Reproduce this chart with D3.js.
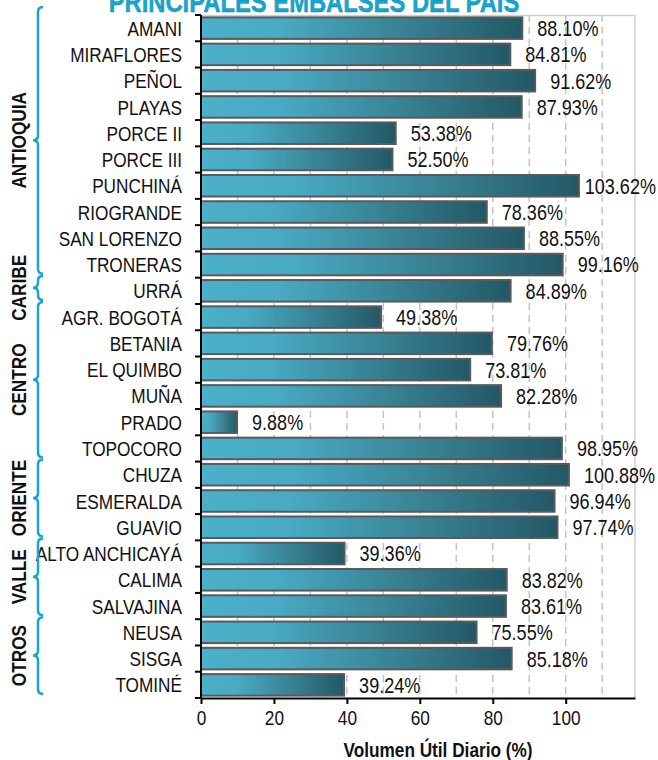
<!DOCTYPE html>
<html>
<head>
<meta charset="utf-8">
<script src="https://cdn.jsdelivr.net/npm/d3@7"></script>
<style>
  body { margin: 0; background: #fff; }
  svg { display: block; }
  text { font-family: "Liberation Sans", Arial, sans-serif; }
</style>
</head>
<body>
<div id="chart"></div>
<script>
// Data
var embalses = ["AMANI","MIRAFLORES","PEÑOL","PLAYAS","PORCE II","PORCE III","PUNCHINÁ","RIOGRANDE","SAN LORENZO","TRONERAS",
	"URRÁ",
	"AGR. BOGOTÁ","BETANIA","EL QUIMBO","MUÑA","PRADO","TOPOCORO",
	"CHUZA","ESMERALDA","GUAVIO",
	"ALTO ANCHICAYÁ","CALIMA","SALVAJINA",
	"NEUSA","SISGA","TOMINÉ"];
var volumen = [88.10,84.81,91.62,87.93,53.38,52.50,103.62,78.36,88.55,99.16,
	84.89,
	49.38,79.76,73.81,82.28,9.88,98.95,
	100.88,96.94,97.74,
	39.36,83.82,83.61,
	75.55,85.18,39.24];
var regiones = ["ANTIOQUIA","CARIBE","CENTRO","ORIENTE","VALLE","OTROS"];
var regionCount = [10,1,6,3,3,3];
var xTicks = [0,20,40,60,80,100];
var gridTicks = [10,20,30,40,50,60,70,80,90,100,110];

var width = 658, height = 760;
var margin = {top: 15, left: 201, right: 23, bottom: 62};
var plotW = width - margin.left - margin.right;
var plotH = height - margin.top - margin.bottom;

var cyan = "#14a7cf";
var narrow = 0.82; // fake "Arial Narrow" by squeezing Liberation Sans

var svg = d3.select("#chart").append("svg")
	.attr("width", width).attr("height", height);

var defs = svg.append("defs");
var grad = defs.append("linearGradient")
	.attr("id", "barGrad")
	.attr("x1", "0%").attr("x2", "100%").attr("y1", "0%").attr("y2", "0%");
grad.append("stop").attr("offset", "0%").attr("stop-color", "#4bb0c9");
grad.append("stop").attr("offset", "25%").attr("stop-color", "#48aac3");
grad.append("stop").attr("offset", "60%").attr("stop-color", "#3a8597");
grad.append("stop").attr("offset", "100%").attr("stop-color", "#235866");

var x = d3.scaleLinear().domain([0, 119]).range([0, plotW]);
var y = d3.scaleBand().domain(embalses).range([0, plotH]).paddingInner(0.18).paddingOuter(0.09);

var g = svg.append("g").attr("transform", "translate(" + margin.left + "," + margin.top + ")");

function place(px, py, rot) {
	return "translate(" + px + "," + py + ")" + (rot ? " rotate(" + rot + ")" : "") + " scale(" + narrow + ",1)";
}

// Plot border (light)
g.append("path")
	.attr("d", "M0,0.5H" + plotW + "V" + plotH)
	.attr("fill", "none").attr("stroke", "#d0d0d0").attr("stroke-width", 1.5);

// Dashed gridlines
g.selectAll(".grid").data(gridTicks).enter().append("line")
	.attr("class", "grid")
	.attr("x1", function(d) { return x(d); }).attr("x2", function(d) { return x(d); })
	.attr("y1", 0).attr("y2", plotH)
	.attr("stroke", "#c4c4c4").attr("stroke-width", 1.5)
	.attr("stroke-dasharray", "7,5");

// Bars
g.selectAll(".bar").data(embalses).enter().append("rect")
	.attr("class", "bar")
	.attr("x", 0)
	.attr("y", function(d) { return y(d); })
	.attr("width", function(d, i) { return x(volumen[i]); })
	.attr("height", y.bandwidth())
	.attr("fill", "url(#barGrad)")
	.attr("stroke", "#5a5a5a").attr("stroke-width", 2);

// Value labels (pulled back in if they would run off the right edge)
g.selectAll(".val").data(embalses).enter().append("text")
	.attr("class", "val")
	.attr("dy", "0.36em")
	.attr("font-size", 22)
	.attr("fill", "#111")
	.text(function(d, i) { return volumen[i].toFixed(2) + "%"; })
	.attr("transform", function(d, i) {
		var w = this.getComputedTextLength() * narrow;
		var maxX = width - margin.left - 2 - w;
		return place(Math.min(x(volumen[i]) + 15, maxX), y(d) + y.bandwidth() / 2);
	});

// Y axis: ticks at band edges
var step = plotH / embalses.length;
g.append("line").attr("x1", 0).attr("x2", 0).attr("y1", 0).attr("y2", plotH)
	.attr("stroke", "#000").attr("stroke-width", 2);
g.selectAll(".ytick").data(d3.range(embalses.length + 1)).enter().append("line")
	.attr("class", "ytick")
	.attr("x1", -6).attr("x2", 0)
	.attr("y1", function(d) { return d * step; }).attr("y2", function(d) { return d * step; })
	.attr("stroke", "#000").attr("stroke-width", 2);
g.selectAll(".ylab").data(embalses).enter().append("text")
	.attr("class", "ylab")
	.attr("transform", function(d) { return place(-19, y(d) + y.bandwidth() / 2); })
	.attr("dy", "0.36em")
	.attr("text-anchor", "end")
	.attr("font-size", 21)
	.attr("fill", "#111")
	.text(function(d) { return d; });

// X axis
var xAxis = g.append("g").attr("transform", "translate(0," + plotH + ")")
	.call(d3.axisBottom(x).tickValues(xTicks).tickSize(6).tickSizeOuter(0));
xAxis.select(".domain").attr("stroke", "#000").attr("stroke-width", 2);
xAxis.selectAll(".tick line").attr("stroke", "#000").attr("stroke-width", 2);
xAxis.selectAll(".tick text")
	.attr("font-size", 21).attr("fill", "#111").attr("y", 12).attr("dy", "0.71em")
	.attr("transform", "scale(" + narrow + ",1)")
	.style("font-family", "'Liberation Sans', Arial, sans-serif");

svg.append("text")
	.attr("transform", place(438, 757))
	.attr("text-anchor", "middle")
	.attr("font-size", 21).attr("font-weight", "bold")
	.attr("fill", "#111")
	.text("Volumen Útil Diario (%)");

// Title (partly cut off at top, as in the source)
svg.append("text")
	.attr("transform", place(314, 12))
	.attr("text-anchor", "middle")
	.attr("font-size", 29).attr("font-weight", "bold")
	.attr("fill", cyan)
	.attr("stroke", "#0f7f9e").attr("stroke-width", 0.4)
	.text("PRINCIPALES EMBALSES DEL PAIS");

// Region braces and labels
var groups = [];
var start = 0;
regiones.forEach(function(r, i) {
	groups.push({name: r, i0: start, i1: start + regionCount[i]});
	start += regionCount[i];
});

function braceY(d) {
	var y0 = margin.top + d.i0 * step - 2;
	var y1 = margin.top + d.i1 * step - 4;
	if (d.i0 === 0) y0 = 7;
	return [y0, y1];
}

function bracePath(y0, y1) {
	var xe = 43, xb = 38, xt = 33, r = 5;
	var ym = (y0 + y1) / 2;
	return "M" + xe + "," + y0 +
		"Q" + xb + "," + y0 + " " + xb + "," + (y0 + r) +
		"V" + (ym - r) +
		"Q" + xb + "," + ym + " " + xt + "," + ym +
		"Q" + xb + "," + ym + " " + xb + "," + (ym + r) +
		"V" + (y1 - r) +
		"Q" + xb + "," + y1 + " " + xe + "," + y1;
}

var gg = svg.selectAll(".region").data(groups).enter().append("g").attr("class", "region");
gg.append("path")
	.attr("d", function(d) { var b = braceY(d); return bracePath(b[0], b[1]); })
	.attr("fill", "none").attr("stroke", cyan).attr("stroke-width", 2.5);
gg.append("text")
	.attr("transform", function(d) { var b = braceY(d); return place(18, (b[0] + b[1]) / 2, -90); })
	.attr("dy", "0.36em")
	.attr("text-anchor", "middle")
	.attr("font-size", 21).attr("font-weight", "bold")
	.attr("fill", "#111")
	.text(function(d) { return d.name; });
</script>
</body>
</html>
